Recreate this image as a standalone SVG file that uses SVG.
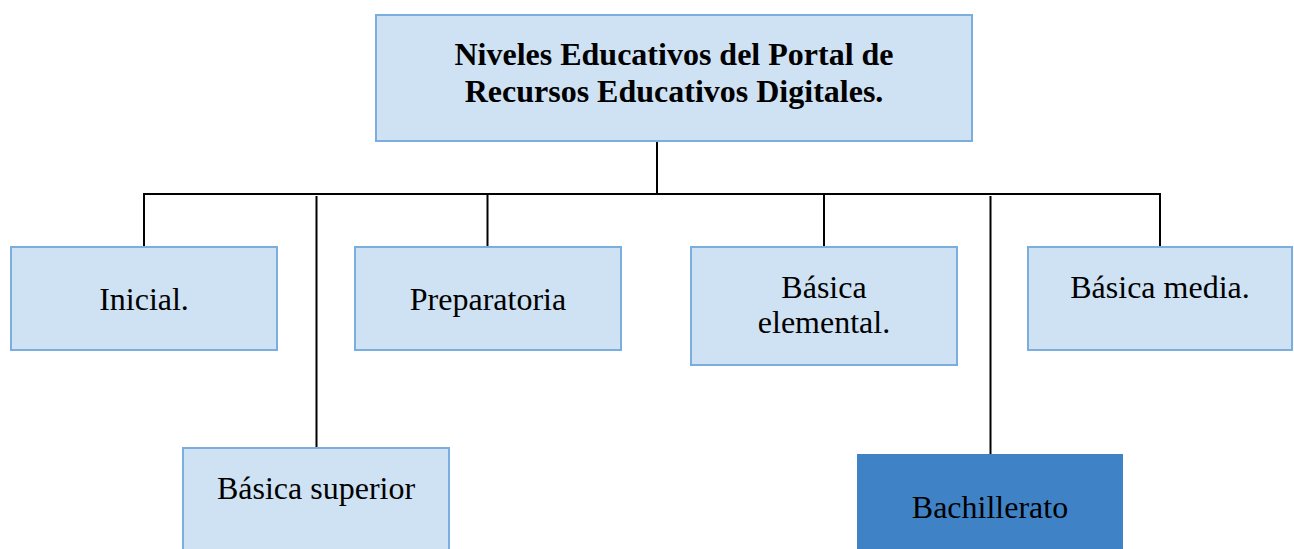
<svg xmlns="http://www.w3.org/2000/svg" width="1294" height="549" viewBox="0 0 1294 549">
<style>
.box{fill:#CFE2F3;stroke:#7BAEDE;stroke-width:2}
.dark{fill:#3F83C6;stroke:none}
.t{font-family:"Liberation Serif","Times New Roman",serif;font-size:32px;fill:#000;text-anchor:middle}
.b{font-weight:bold}
.c{stroke:#000;stroke-width:2;fill:none}
</style>
<rect width="1294" height="549" fill="#fff"/>
<g id="connectors">
<line class="c" x1="657" y1="141" x2="657" y2="194"/>
<line class="c" x1="143" y1="194" x2="1161" y2="194"/>
<line class="c" x1="144" y1="194" x2="144" y2="247"/>
<line class="c" x1="487.5" y1="194" x2="487.5" y2="247"/>
<line class="c" x1="824" y1="194" x2="824" y2="247"/>
<line class="c" x1="1160" y1="194" x2="1160" y2="247"/>
<line class="c" x1="316.5" y1="196" x2="316.5" y2="448"/>
<line class="c" x1="990.5" y1="196" x2="990.5" y2="454"/>
</g>
<g id="root">
<rect class="box" x="376" y="15" width="596" height="126"/>
<text class="t b" x="674" y="65">Niveles Educativos del Portal de</text>
<text class="t b" x="674" y="102">Recursos Educativos Digitales.</text>
</g>
<g id="inicial">
<rect class="box" x="11" y="247" width="266" height="103"/>
<text class="t" x="144" y="310">Inicial.</text>
</g>
<g id="preparatoria">
<rect class="box" x="355" y="247" width="266" height="103"/>
<text class="t" x="488" y="310">Preparatoria</text>
</g>
<g id="basica-elemental">
<rect class="box" x="691" y="247" width="266" height="118"/>
<text class="t" x="824" y="298">Básica</text>
<text class="t" x="824" y="333">elemental.</text>
</g>
<g id="basica-media">
<rect class="box" x="1028" y="247" width="264" height="103"/>
<text class="t" x="1160" y="298">Básica media.</text>
</g>
<g id="basica-superior">
<rect class="box" x="183" y="448" width="266" height="110"/>
<text class="t" x="316" y="499">Básica superior</text>
</g>
<g id="bachillerato">
<rect class="dark" x="857" y="454" width="266" height="100"/>
<text class="t" x="990" y="518">Bachillerato</text>
</g>
</svg>
